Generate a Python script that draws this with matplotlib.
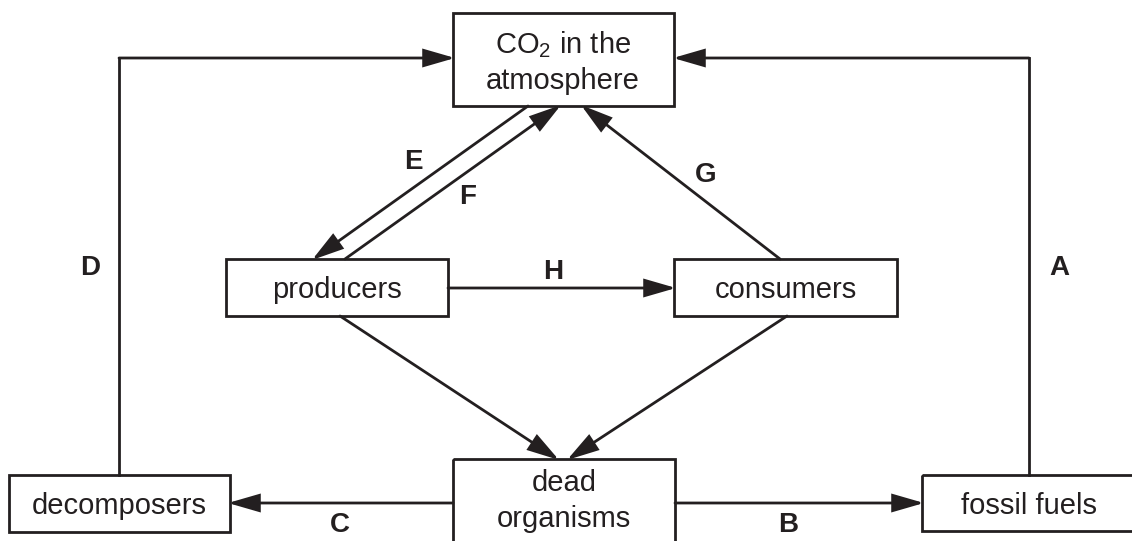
import matplotlib
matplotlib.use("Agg")
import matplotlib.pyplot as plt
from matplotlib.patches import Rectangle, FancyArrowPatch

plt.rcParams['font.family'] = ['Liberation Sans', 'DejaVu Sans']
plt.rcParams['mathtext.fontset'] = 'custom'
plt.rcParams['mathtext.rm'] = 'Liberation Sans'

INK = '#231f20'

# box texts
box_names = ['co2', 'producers', 'consumers', 'dead', 'decomposers', 'fossil']
box_texts = ['CO$_2$ in the\natmosphere', 'producers', 'consumers',
             'dead\norganisms', 'decomposers', 'fossil fuels']

# box geometry (pixels: left, top, right, bottom)
box_rects = {
    'co2': (453, 13, 674, 106),
    'producers': (226, 259, 448, 316),
    'consumers': (674, 259, 897, 316),
    'dead': (453, 459, 675, 560),
    'decomposers': (9, 475, 230, 532),
    'fossil': (922, 475, 1136, 531),
}
text_pos = {'dead': (564, 501), 'co2': (563, 62)}

# arrow labels
arrow_labels = ['A', 'B', 'C', 'D', 'E', 'F', 'G', 'H']
label_pos = [(1059, 268), (788, 525), (340, 525), (90, 268),
             (413, 162), (468, 197), (706, 175), (553, 272)]

# arrows as paths, head at last point
arrow_paths = [
    [(119, 475), (119, 58), (455, 58)],     # D
    [(1029, 475), (1029, 58), (673, 58)],   # A
    [(528, 106), (312, 260)],               # E
    [(345, 259), (561, 105)],               # F
    [(780, 259), (581, 105)],               # G
    [(448, 288), (676, 288)],               # H
    [(340, 316), (559, 460)],
    [(787, 316), (567, 460)],
    [(453, 503), (228, 503)],               # C
    [(675, 503), (924, 503)],               # B
]

fig = plt.figure(figsize=(11.32, 5.41), dpi=100)
ax = fig.add_axes([0, 0, 1, 1])
ax.set_xlim(0, 1132)
ax.set_ylim(541, 0)
ax.axis('off')

for name, txt in zip(box_names, box_texts):
    l, t, r, b = box_rects[name]
    ax.add_patch(Rectangle((l, t), r - l, b - t, fill=False, ec=INK, lw=2.0))
    cx, cy = text_pos.get(name, ((l + r) / 2, (t + b) / 2 + 3))
    ax.text(cx, cy, txt, ha='center', va='center', fontsize=21,
            color=INK, linespacing=1.32)

for path in arrow_paths:
    if len(path) > 2:
        xs = [p[0] for p in path[:-1]]
        ys = [p[1] for p in path[:-1]]
        ax.plot(xs, ys, color=INK, lw=2.0, solid_joinstyle='miter')
    ar = FancyArrowPatch(path[-2], path[-1], arrowstyle='-|>,head_length=19,head_width=5.5',
                         mutation_scale=1, shrinkA=0, shrinkB=0, color=INK, lw=2.0,
                         joinstyle='miter')
    ax.add_patch(ar)

for lab, (x, y) in zip(arrow_labels, label_pos):
    ax.text(x, y, lab, ha='center', va='center', fontsize=20,
            fontweight='bold', color=INK)

fig.savefig('out.png', dpi=100)
